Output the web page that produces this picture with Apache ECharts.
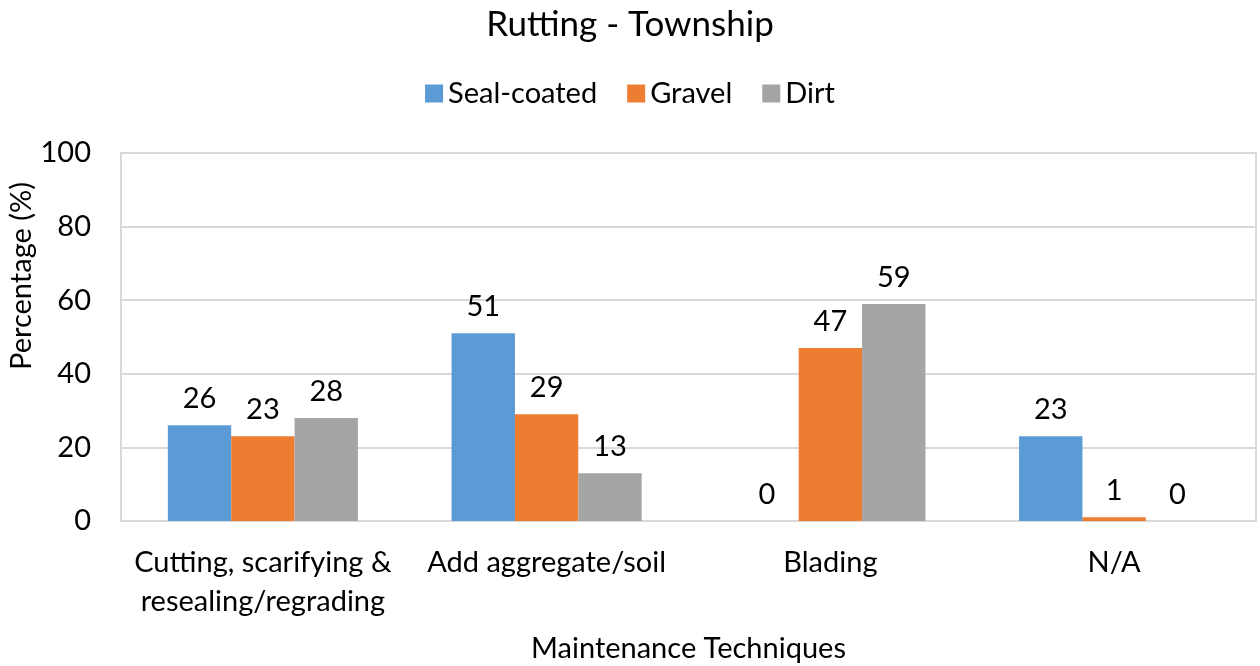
<!DOCTYPE html>
<html>
<head>
<meta charset="utf-8">
<script src="https://cdn.jsdelivr.net/npm/echarts@6/dist/echarts.min.js"></script>
<style>
  html, body { margin: 0; padding: 0; background: #fff; }
  #chart { width: 1260px; height: 666px; }
</style>
</head>
<body>
<div id="chart"></div>
<script>
// Maintenance techniques used for rutting on township roads
const categories = ['Cutting, scarifying &\nresealing/regrading', 'Add aggregate/soil', 'Blading', 'N/A'];
const sealCoated = [26, 51, 0, 23];
const gravel = [23, 29, 47, 1];
const dirt = [28, 13, 59, 0];
const yTicks = [0, 20, 40, 60, 80, 100];

const FONT = 'Lato, "Open Sans", sans-serif';
const FS = 29;
const chart = echarts.init(document.getElementById('chart'), null, { renderer: 'canvas' });

function barSeries(name, data, color) {
  return {
    name: name,
    type: 'bar',
    data: data,
    barGap: '0%',
    barCategoryGap: '33%',
    itemStyle: { color: color },
    label: {
      show: true,
      position: 'top',
      distance: 12,
      color: '#000',
      fontFamily: FONT,
      fontSize: FS
    }
  };
}

chart.setOption({
  animation: false,
  backgroundColor: '#fff',
  textStyle: { fontFamily: FONT },
  title: {
    text: 'Rutting - Township',
    left: 'center',
    top: 2,
    textStyle: { fontFamily: FONT, fontSize: 35, fontWeight: 'normal', color: '#000' }
  },
  legend: {
    top: 74,
    left: 'center',
    itemWidth: 18,
    itemHeight: 18,
    itemGap: 30,
    icon: 'rect',
    textStyle: { fontFamily: FONT, fontSize: FS, color: '#000' },
    data: ['Seal-coated', 'Gravel', 'Dirt']
  },
  grid: {
    left: 121,
    right: 4,
    top: 153,
    bottom: 145,
    containLabel: false,
    outerBoundsMode: 'none',
    show: true,
    borderColor: '#d9d9d9',
    borderWidth: 2
  },
  xAxis: {
    type: 'category',
    data: categories,
    name: 'Maintenance Techniques',
    nameLocation: 'middle',
    nameGap: 113,
    nameMoveOverlap: false,
    nameTextStyle: { fontFamily: FONT, fontSize: FS, color: '#000' },
    axisLine: { show: true, lineStyle: { color: '#d9d9d9', width: 2 } },
    axisTick: { show: false },
    axisLabel: {
      fontFamily: FONT,
      fontSize: FS,
      color: '#000',
      margin: 22,
      lineHeight: 39,
      interval: 0
    }
  },
  yAxis: {
    type: 'value',
    min: 0,
    max: 100,
    interval: 20,
    name: 'Percentage (%)',
    nameLocation: 'middle',
    nameGap: 85,
    nameMoveOverlap: false,
    nameRotate: 90,
    nameTextStyle: { fontFamily: FONT, fontSize: FS, color: '#000', padding: [0, 0, 0, 122] },
    axisLine: { show: false },
    axisTick: { show: false },
    splitLine: { show: true, lineStyle: { color: '#d9d9d9', width: 2 } },
    axisLabel: {
      fontFamily: FONT,
      fontSize: FS,
      color: '#000',
      margin: 30,
      formatter: function (v) { return yTicks.indexOf(v) >= 0 ? String(v) : ''; }
    }
  },
  series: [
    barSeries('Seal-coated', sealCoated, '#5B9BD5'),
    barSeries('Gravel', gravel, '#ED7D31'),
    barSeries('Dirt', dirt, '#A5A5A5')
  ]
});
</script>
</body>
</html>
